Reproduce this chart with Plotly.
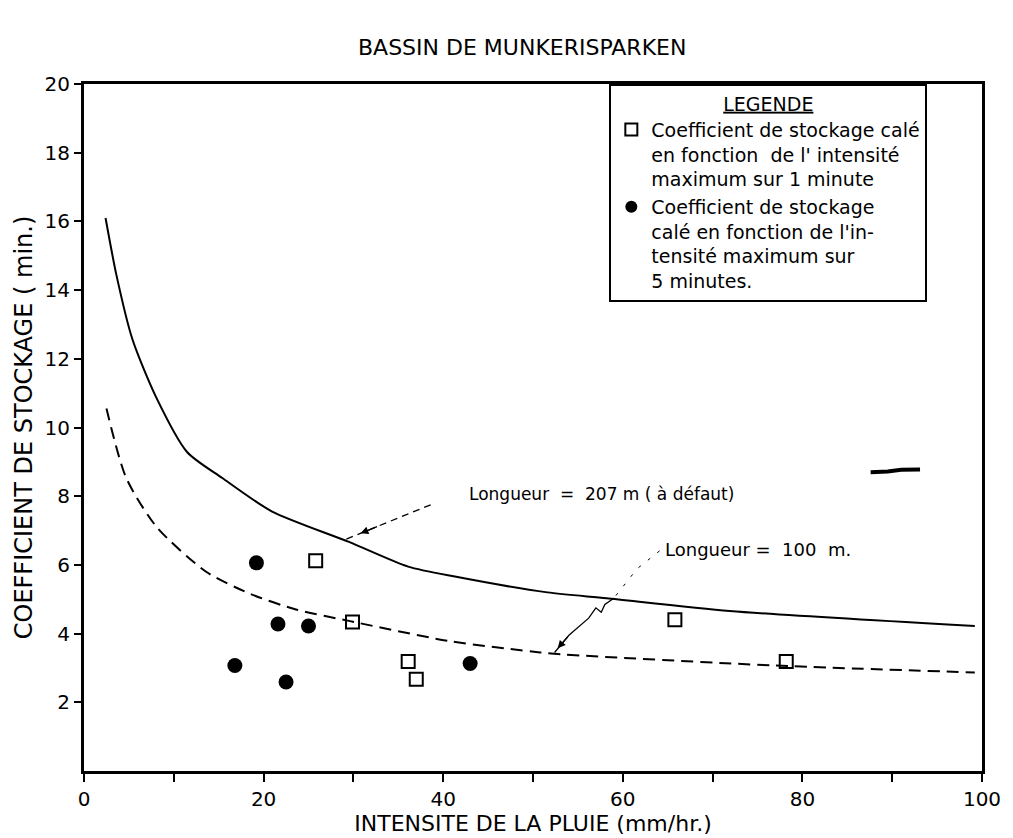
import plotly.graph_objects as go

# Storage coefficient fitted on the 1-minute peak intensity (open squares)
int_1min = [25.8, 29.9, 36.1, 37.0, 65.8, 78.2]
coef_1min = [6.12, 4.34, 3.19, 2.67, 4.40, 3.19]

# Storage coefficient fitted on the 5-minute peak intensity (filled dots)
int_5min = [19.2, 21.6, 25.0, 16.8, 22.5, 43.0]
coef_5min = [6.06, 4.28, 4.22, 3.07, 2.59, 3.13]

# Curve for a flow length of 207 m (default value)
curve207_x = [2.4, 3.6, 5.4, 8.0, 11.5, 15.4, 20.9, 29.5, 36.1, 41.3, 51.6, 58.2, 71.9, 99.2]
curve207_y = [16.1, 14.45, 12.56, 10.9, 9.28, 8.53, 7.56, 6.67, 5.95, 5.66, 5.2, 5.03, 4.66, 4.22]

# Curve for a flow length of 100 m
curve100_x = [2.5, 4.7, 8.1, 13.6, 18.4, 23.6, 29.5, 40.5, 50.8, 53.5, 77.0, 99.2]
curve100_y = [10.55, 8.53, 7.1, 5.8, 5.17, 4.7, 4.37, 3.79, 3.45, 3.39, 3.07, 2.87]

# Leader lines joining the curve labels to their curves
leader207_x = [38.6, 29.2]
leader207_y = [7.75, 6.75]
leader100_dot_x = [64.1, 61.6, 59.0]
leader100_dot_y = [6.41, 5.89, 5.03]
leader100_x = [59.0, 58.0, 57.6, 57.0, 56.2, 54.0, 52.4]
leader100_y = [5.03, 4.85, 4.62, 4.75, 4.45, 3.95, 3.45]

# Stray pen stroke on the sheet
stroke_x = [87.6, 89.5, 91.0, 93.1]
stroke_y = [8.70, 8.72, 8.77, 8.78]

x_ticks = [0, 10, 20, 30, 40, 50, 60, 70, 80, 90, 100]
x_tick_text = ["0", "", "20", "", "40", "", "60", "", "80", "", "100"]
y_ticks = [2, 4, 6, 8, 10, 12, 14, 16, 18, 20]
y_tick_text = ["2", "4", "6", "8", "10", "12", "14", "16", "18", "20"]

FONT = "DejaVu Sans"
INK = "black"

fig = go.Figure()

fig.add_trace(go.Scatter(
    x=curve207_x, y=curve207_y, mode="lines",
    line=dict(color=INK, width=2, shape="spline", smoothing=0.7),
    showlegend=False, hoverinfo="skip"))
fig.add_trace(go.Scatter(
    x=curve100_x, y=curve100_y, mode="lines",
    line=dict(color=INK, width=2, dash="12px,7px", shape="spline", smoothing=0.7),
    showlegend=False, hoverinfo="skip"))

# leaders
fig.add_trace(go.Scatter(
    x=leader207_x, y=leader207_y, mode="lines",
    line=dict(color=INK, width=1.3, dash="7px,5px"),
    showlegend=False, hoverinfo="skip"))
fig.add_trace(go.Scatter(
    x=leader100_dot_x, y=leader100_dot_y, mode="lines",
    line=dict(color=INK, width=1, dash="3px,9px"),
    showlegend=False, hoverinfo="skip"))
fig.add_trace(go.Scatter(
    x=leader100_x, y=leader100_y, mode="lines",
    line=dict(color=INK, width=1.3),
    showlegend=False, hoverinfo="skip"))
fig.add_trace(go.Scatter(
    x=stroke_x, y=stroke_y, mode="lines",
    line=dict(color=INK, width=4),
    showlegend=False, hoverinfo="skip"))

fig.add_trace(go.Scatter(
    x=int_1min, y=coef_1min, mode="markers",
    name="Coefficient de stockage calé<br>en fonction  de l' intensité<br>maximum sur 1 minute",
    marker=dict(symbol="square-open", size=13, color=INK, line=dict(width=2, color=INK))))
fig.add_trace(go.Scatter(
    x=int_5min, y=coef_5min, mode="markers",
    name="Coefficient de stockage<br>calé en fonction de l'in-<br>tensité maximum sur<br>5 minutes.",
    marker=dict(symbol="circle", size=15, color=INK)))

# arrowheads on the leaders
fig.add_annotation(x=leader207_x[-1] + 1.6, y=leader207_y[-1] + 0.17,
                   ax=leader207_x[-1] + 3.6, ay=leader207_y[-1] + 0.38,
                   xref="x", yref="y", axref="x", ayref="y", text="",
                   showarrow=True, arrowhead=2, arrowsize=1.2, arrowwidth=1.3, arrowcolor=INK)
fig.add_annotation(x=leader100_x[-1] + 0.35, y=leader100_y[-1] + 0.12,
                   ax=leader100_x[-2], ay=leader100_y[-2],
                   xref="x", yref="y", axref="x", ayref="y", text="",
                   showarrow=True, arrowhead=2, arrowsize=1.2, arrowwidth=1.3, arrowcolor=INK)

fig.add_annotation(x=42.6, y=8.05, xref="x", yref="y", xanchor="left", yanchor="middle",
                   text="Longueur\u00a0\u00a0=\u00a0\u00a0207 m ( à défaut)", showarrow=False,
                   font=dict(family=FONT, size=17, color=INK))
fig.add_annotation(x=64.5, y=6.45, xref="x", yref="y", xanchor="left", yanchor="middle",
                   text="Longueur\u00a0=\u00a0\u00a0100\u00a0\u00a0m.", showarrow=False,
                   font=dict(family=FONT, size=18, color=INK))

fig.add_annotation(x=0.488, y=1.053, xref="paper", yref="paper", xanchor="center", yanchor="middle",
                   text="BASSIN DE MUNKERISPARKEN", showarrow=False,
                   font=dict(family=FONT, size=22, color=INK))

fig.update_layout(
    width=1013, height=838,
    margin=dict(l=84, r=26, t=84, b=59),
    paper_bgcolor="white", plot_bgcolor="white",
    font=dict(family=FONT, color=INK, size=18),
    showlegend=True,
    legend=dict(
        x=0.585, y=1.0, xanchor="left", yanchor="top",
        bgcolor="white", bordercolor=INK, borderwidth=2,
        font=dict(family=FONT, size=19, color=INK),
        title=dict(text="<u>LEGENDE</u>", side="top center",
                   font=dict(family=FONT, size=19, color=INK)),
        valign="top", tracegroupgap=6, itemsizing="constant"),
    xaxis=dict(
        range=[0, 100], tickvals=x_ticks, ticktext=x_tick_text,
        ticks="outside", ticklen=8, tickwidth=2, tickcolor=INK,
        showline=True, linewidth=3, linecolor=INK, mirror=True,
        showgrid=False, zeroline=False,
        tickfont=dict(family=FONT, size=20, color=INK),
        title=dict(text="INTENSITE DE LA PLUIE (mm/hr.)", standoff=0,
                   font=dict(family=FONT, size=22, color=INK))),
    yaxis=dict(
        range=[0, 20], tickvals=y_ticks, ticktext=y_tick_text,
        ticks="outside", ticklen=7, tickwidth=2, tickcolor=INK,
        showline=True, linewidth=3, linecolor=INK, mirror=True,
        showgrid=False, zeroline=False,
        tickfont=dict(family=FONT, size=20, color=INK),
        title=dict(text="COEFFICIENT DE STOCKAGE ( min.)", standoff=6,
                   font=dict(family=FONT, size=24, color=INK))),
)

fig.write_html("out.html")
